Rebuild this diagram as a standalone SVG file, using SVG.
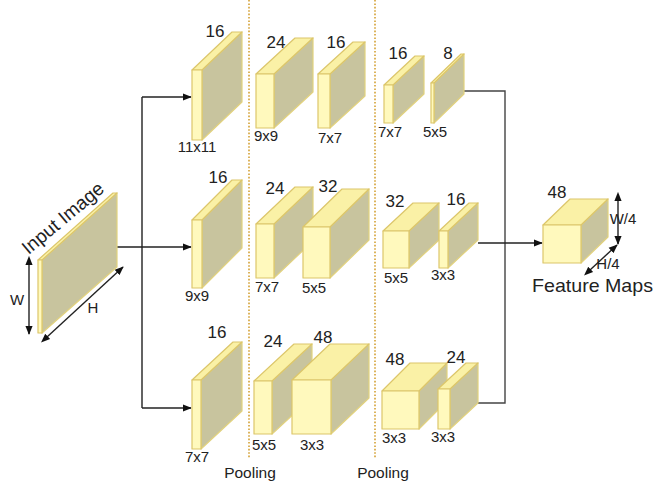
<svg xmlns="http://www.w3.org/2000/svg" width="656" height="484" viewBox="0 0 656 484">
  <defs>
    <marker id="arr" viewBox="0 0 10 10" refX="9" refY="5" markerWidth="9" markerHeight="9" markerUnits="userSpaceOnUse" orient="auto">
      <path d="M0,1 L10,5 L0,9 z" fill="#111"/>
    </marker>
    <marker id="arrS" viewBox="0 0 10 10" refX="1" refY="5" markerWidth="9" markerHeight="9" markerUnits="userSpaceOnUse" orient="auto-start-reverse">
      <path d="M0,1 L10,5 L0,9 z" fill="#111"/>
    </marker>
  </defs>
  <style>
    .front { fill: #fff9bd; stroke: #dcc66a; stroke-width: 1.2; stroke-linejoin: round; }
    .top { fill: #faf1a6; stroke: #dcc66a; stroke-width: 1.2; stroke-linejoin: round; }
    .side { fill: #c8c49e; stroke: #e2d27e; stroke-width: 1.2; stroke-linejoin: round; }
    .num { font-family: "Liberation Sans", Arial, sans-serif; font-size: 17px; fill: #222; text-anchor: middle; }
    .dim { font-family: "Liberation Sans", Arial, sans-serif; font-size: 15px; fill: #222; text-anchor: middle; }
    .lbl { font-family: "Liberation Sans", Arial, sans-serif; font-size: 15.5px; fill: #222; text-anchor: middle; }
    .big { font-family: "Liberation Sans", Arial, sans-serif; font-size: 19px; fill: #222; }
    .wire { fill: none; stroke: #222; stroke-width: 1.4; }
    .wire2 { fill: none; stroke: #444; stroke-width: 1.4; }
    .sep { stroke: #d6a640; stroke-width: 1.7; stroke-dasharray: 1.6 1.8; }
  </style>

  <rect width="656" height="484" fill="#ffffff"/>

  <!-- stage separators -->
  <line class="sep" x1="249" y1="0" x2="249" y2="458"/>
  <line class="sep" x1="375" y1="0" x2="375" y2="458"/>

  <!-- connectors -->
  <g id="connectors">
    <path class="wire" d="M117,247 H142 M142,97 V408"/>
    <path class="wire" d="M142,97 H191" marker-end="url(#arr)"/>
    <path class="wire" d="M142,247 H191" marker-end="url(#arr)"/>
    <path class="wire" d="M142,408 H191" marker-end="url(#arr)"/>
    <path class="wire2" d="M464,91 H505 V403 H478"/>
    <path class="wire" d="M478,243 H542" marker-end="url(#arr)"/>
    <path class="wire" d="M29,264 V334" marker-start="url(#arrS)" marker-end="url(#arr)"/>
    <path class="wire" d="M47,337 L123,267" marker-start="url(#arrS)" marker-end="url(#arr)"/>
    <path class="wire" d="M618,200 V244" marker-start="url(#arrS)" marker-end="url(#arr)"/>
    <path class="wire" d="M590,270 L617,245" marker-start="url(#arrS)" marker-end="url(#arr)"/>
  </g>

  <!-- input image slab -->
  <g id="input">
    <polygon class="side" points="42,260 117,193 117,267 42,333"/>
    <polygon class="top" points="38,260 42,260 117,193 113,193"/>
    <rect class="front" x="38" y="260" width="4" height="73"/>
    <text class="big" transform="translate(67,223) rotate(-40)" text-anchor="middle">Input Image</text>
    <text class="dim" x="17" y="305">W</text>
    <text class="dim" x="93" y="313">H</text>
  </g>

  <!-- top branch -->
  <g id="a1">
    <polygon class="side" points="202,70 242,32 242,102 202,140"/>
    <polygon class="top" points="192,70 202,70 242,32 232,32"/>
    <rect class="front" x="192" y="70" width="10" height="70"/>
    <text class="num" x="215" y="37">16</text>
    <text class="dim" x="197" y="152">11x11</text>
  </g>
  <g id="a2">
    <polygon class="side" points="274,74 313,38 313,92 274,128"/>
    <polygon class="top" points="256,74 274,74 313,38 295,38"/>
    <rect class="front" x="256" y="74" width="18" height="54"/>
    <text class="num" x="276" y="48">24</text>
    <text class="dim" x="266" y="141">9x9</text>
  </g>
  <g id="a3">
    <polygon class="side" points="330,74 365,42 365,96 330,128"/>
    <polygon class="top" points="318,74 330,74 365,42 353,42"/>
    <rect class="front" x="318" y="74" width="12" height="54"/>
    <text class="num" x="336" y="48">16</text>
    <text class="dim" x="330" y="143">7x7</text>
  </g>
  <g id="a4">
    <polygon class="side" points="393,85 424,56 424,94 393,123"/>
    <polygon class="top" points="384,85 393,85 424,56 415,56"/>
    <rect class="front" x="384" y="85" width="9" height="38"/>
    <text class="num" x="398" y="59">16</text>
    <text class="dim" x="390" y="137">7x7</text>
  </g>
  <g id="a5">
    <polygon class="side" points="434,83 464,54 464,94 434,123"/>
    <polygon class="top" points="431,83 434,83 464,54 461,54"/>
    <rect class="front" x="431" y="83" width="3" height="40"/>
    <text class="num" x="448" y="59">8</text>
    <text class="dim" x="435" y="137">5x5</text>
  </g>

  <!-- middle branch -->
  <g id="b1">
    <polygon class="side" points="202,220 242,180 242,248 202,288"/>
    <polygon class="top" points="192,220 202,220 242,180 232,180"/>
    <rect class="front" x="192" y="220" width="10" height="68"/>
    <text class="num" x="218" y="183">16</text>
    <text class="dim" x="197" y="301">9x9</text>
  </g>
  <g id="b2">
    <polygon class="side" points="274,224 313,187 313,241 274,278"/>
    <polygon class="top" points="256,224 274,224 313,187 295,187"/>
    <rect class="front" x="256" y="224" width="18" height="54"/>
    <text class="num" x="275" y="194">24</text>
    <text class="dim" x="267" y="292">7x7</text>
  </g>
  <g id="b3">
    <polygon class="side" points="330,227 369,189 369,240 330,278"/>
    <polygon class="top" points="303,227 330,227 369,189 342,189"/>
    <rect class="front" x="303" y="227" width="27" height="51"/>
    <text class="num" x="328" y="192">32</text>
    <text class="dim" x="314" y="293">5x5</text>
  </g>
  <g id="b4">
    <polygon class="side" points="409,231 439,203 439,240 409,268"/>
    <polygon class="top" points="383,231 409,231 439,203 413,203"/>
    <rect class="front" x="383" y="231" width="26" height="37"/>
    <text class="num" x="395" y="207">32</text>
    <text class="dim" x="396" y="283">5x5</text>
  </g>
  <g id="b5">
    <polygon class="side" points="448,231 478,203 478,240 448,268"/>
    <polygon class="top" points="439,231 448,231 478,203 469,203"/>
    <rect class="front" x="439" y="231" width="9" height="37"/>
    <text class="num" x="456" y="205">16</text>
    <text class="dim" x="443" y="280">3x3</text>
  </g>

  <!-- bottom branch -->
  <g id="c1">
    <polygon class="side" points="201,380 242,342 242,411 201,449"/>
    <polygon class="top" points="192,380 201,380 242,342 233,342"/>
    <rect class="front" x="192" y="380" width="9" height="69"/>
    <text class="num" x="217" y="338">16</text>
    <text class="dim" x="197" y="462">7x7</text>
  </g>
  <g id="c2">
    <polygon class="side" points="272,381 312,344 312,397 272,434"/>
    <polygon class="top" points="254,381 272,381 312,344 294,344"/>
    <rect class="front" x="254" y="381" width="18" height="53"/>
    <text class="num" x="273" y="347">24</text>
    <text class="dim" x="264" y="450">5x5</text>
  </g>
  <g id="c3">
    <polygon class="side" points="331,380 369,344 369,398 331,434"/>
    <polygon class="top" points="292,380 331,380 369,344 330,344"/>
    <rect class="front" x="292" y="380" width="39" height="54"/>
    <text class="num" x="323" y="343">48</text>
    <text class="dim" x="312" y="450">3x3</text>
  </g>
  <g id="c4">
    <polygon class="side" points="419,391 447,363 447,401 419,429"/>
    <polygon class="top" points="382,391 419,391 447,363 410,363"/>
    <rect class="front" x="382" y="391" width="37" height="38"/>
    <text class="num" x="395" y="365">48</text>
    <text class="dim" x="394" y="443">3x3</text>
  </g>
  <g id="c5">
    <polygon class="side" points="450,389 478,363 478,403 450,429"/>
    <polygon class="top" points="438,389 450,389 478,363 466,363"/>
    <rect class="front" x="438" y="389" width="12" height="40"/>
    <text class="num" x="456" y="363">24</text>
    <text class="dim" x="443" y="442">3x3</text>
  </g>

  <!-- output -->
  <g id="features">
    <polygon class="side" points="581,225 608,199 608,237 581,263"/>
    <polygon class="top" points="543,225 581,225 608,199 570,199"/>
    <rect class="front" x="543" y="225" width="38" height="38"/>
    <text class="num" x="557" y="198">48</text>
    <text class="dim" x="623" y="224" text-anchor="start">W/4</text>
    <text class="dim" x="608" y="269" text-anchor="start" font-size="14">H/4</text>
    <text class="big" x="532" y="292" textLength="121" lengthAdjust="spacingAndGlyphs">Feature Maps</text>
  </g>

  <!-- stage captions -->
  <text class="lbl" x="250" y="478">Pooling</text>
  <text class="lbl" x="383" y="478">Pooling</text>
</svg>
